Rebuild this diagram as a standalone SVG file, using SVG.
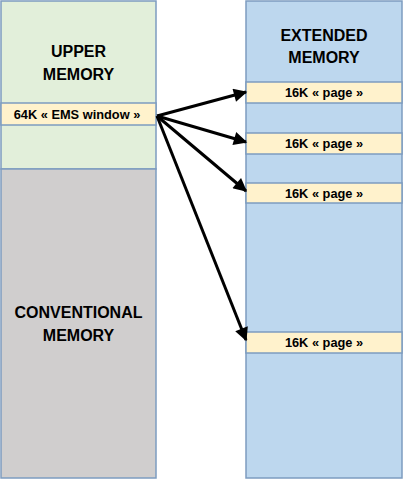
<svg xmlns="http://www.w3.org/2000/svg" width="403" height="480" viewBox="0 0 403 480">
<style>
.b{stroke:#7D9CC0;stroke-width:1.5}
.g{fill:#E2EFDA}.gr{fill:#D0CECE}.bl{fill:#BDD7EE}.c{fill:#FFF2CC}
.t{font-family:"Liberation Sans",Arial,sans-serif;font-weight:bold;fill:#000;text-anchor:middle}
.big{font-size:16px}.sm{font-size:12.8px}
.a{stroke:#000;stroke-width:3;fill:none;marker-end:url(#ah)}
</style>
<defs>
<marker id="ah" viewBox="0 0 10 10" refX="9" refY="5" markerWidth="5" markerHeight="4.5" orient="auto" markerUnits="strokeWidth">
<path d="M0,0 L10,5 L0,10 Z" fill="#000"/>
</marker>
</defs>
<g id="upper-memory">
<rect class="b g" x="1" y="1" width="155" height="168"/>
<text class="t big" x="78.5" y="57">UPPER</text>
<text class="t big" x="78.5" y="80">MEMORY</text>
</g>
<g id="ems-window">
<rect class="b c" x="1" y="103" width="155" height="22"/>
<text class="t sm" x="77" y="118.5">64K « EMS window »</text>
</g>
<g id="conventional-memory">
<rect class="b gr" x="1" y="169" width="155" height="309"/>
<text class="t big" x="78.5" y="318">CONVENTIONAL</text>
<text class="t big" x="78.5" y="341">MEMORY</text>
</g>
<g id="extended-memory">
<rect class="b bl" x="246" y="1" width="156" height="477"/>
<text class="t big" x="324" y="41">EXTENDED</text>
<text class="t big" x="324" y="63">MEMORY</text>
</g>
<g id="page1">
<rect class="b c" x="246" y="82" width="156" height="21"/>
<text class="t sm" x="324" y="97">16K « page »</text>
</g>
<g id="page2">
<rect class="b c" x="246" y="133" width="156" height="21"/>
<text class="t sm" x="324" y="148">16K « page »</text>
</g>
<g id="page3">
<rect class="b c" x="246" y="183" width="156" height="20"/>
<text class="t sm" x="324" y="197.5">16K « page »</text>
</g>
<g id="page4">
<rect class="b c" x="246" y="332" width="156" height="21"/>
<text class="t sm" x="324" y="347">16K « page »</text>
</g>
<g id="connectors">
<line class="a" x1="157" y1="116" x2="246" y2="92"/>
<line class="a" x1="157" y1="116" x2="246" y2="142"/>
<line class="a" x1="157" y1="116" x2="246" y2="191"/>
<line class="a" x1="157" y1="116" x2="246" y2="340"/>
</g>
</svg>
